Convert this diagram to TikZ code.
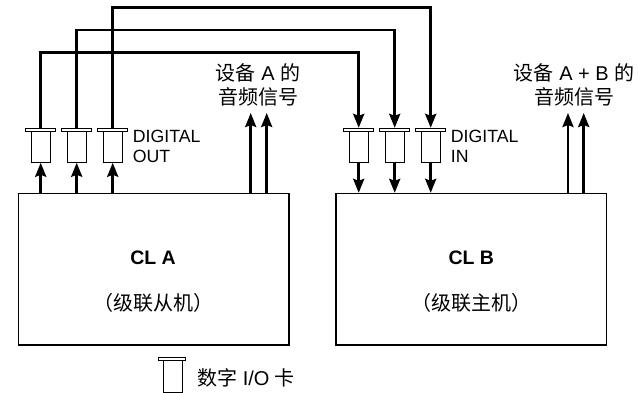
\documentclass[tikz,border=0pt]{standalone}
\usepackage{fontspec}
\setmainfont{Liberation Sans}
\newfontfamily\cjk{Noto Sans CJK SC}
\usetikzlibrary{arrows.meta}
\begin{document}
\begin{tikzpicture}[x=1pt,y=-1pt,
  wire/.style={line width=2.7pt},
  arr/.style={wire,-{Stealth[length=14pt,width=11pt,inset=2pt]}},
  unit/.style={draw, line width=1.3pt, inner sep=0},
  plate/.style={draw, line width=0.9pt, fill=white, minimum width=30pt, minimum height=3.4pt, inner sep=0},
  cardbody/.style={draw, line width=0.9pt, minimum width=19.5pt, minimum height=30.6pt, inner sep=0},
  lbl/.style={font=\fontsize{17.7}{20}\selectfont, align=left, inner sep=0, anchor=west},
  zh/.style={font=\fontsize{20}{24}\selectfont, align=center, inner sep=0},
  title/.style={font=\bfseries\fontsize{19.5}{22}\selectfont, inner sep=0},
]
\useasboundingbox (0,0) rectangle (638,393);

% consoles
\node[unit, minimum width=270.5pt, minimum height=151.5pt] (A) at (153.75,269.25) {};
\node[unit, minimum width=270.3pt, minimum height=151.5pt] (B) at (471.15,269.25) {};
\node[title] (At) at (153,258) {CL A};
\node[zh] (As) at (153,303) {\cjk（级联从机）};
\node[title] (Bt) at (471.3,258) {CL B};
\node[zh] (Bs) at (471.3,303) {\cjk（级联主机）};

% cards
\foreach \i/\x in {1/40.7,2/76.7,3/112.7}{
  \node[cardbody] (bA\i) at (\x,147) {};
  \node[plate] (pA\i) at (\x,130) {};
}
\foreach \i/\x in {1/358.7,2/394.7,3/430.7}{
  \node[cardbody] (bB\i) at (\x,147) {};
  \node[plate] (pB\i) at (\x,130) {};
}

\node[lbl] (dout) at (132.7,146.5) {DIGITAL\\OUT};
\node[lbl] (din) at (450.7,146.5) {DIGITAL\\IN};

% cascade cables
\coordinate (r1) at (0,52.7);
\coordinate (r2) at (0,30);
\coordinate (r3) at (0,7.3);
\foreach \i in {1,2,3}{
  \draw[arr] (pA\i.north) -- (pA\i.north |- r\i) -- (pB\i.north |- r\i) -- (pB\i.north);
  \draw[arr] (bA\i.south |- A.north) -- (bA\i.south);
  \draw[arr] (bB\i.south) -- (bB\i.south |- B.north);
}

% audio outputs
\coordinate (oa1) at (250.7,113);
\coordinate (oa2) at (266.7,113);
\coordinate (ob1) at (568,113);
\coordinate (ob2) at (583.7,113);
\foreach \c in {oa1,oa2}{ \draw[arr] (\c |- A.north) -- (\c); }
\foreach \c in {ob1,ob2}{ \draw[arr] (\c |- B.north) -- (\c); }

\node[zh] (la) at (258,85) {{\cjk 设备} A {\cjk 的}\\{\cjk 音频信号}};
\node[zh] (lb) at (574,85) {{\cjk 设备} A + B {\cjk 的}\\{\cjk 音频信号}};

% legend
\node[cardbody, minimum height=32pt] (lbody) at (172.7,376) {};
\node[plate, minimum width=27pt] (lplate) at (171.7,358.7) {};
\node[zh, anchor=west] (ltxt) at (197,378) {{\cjk 数字} I/O {\cjk 卡}};
\end{tikzpicture}
\end{document}
